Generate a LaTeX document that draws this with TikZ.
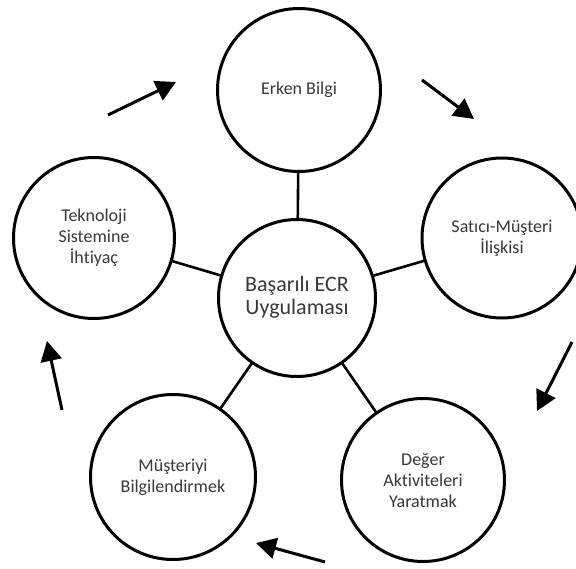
\documentclass[tikz,border=0pt]{standalone}
\usepackage{fontspec}
\setmainfont{Carlito}[Ligatures={NoCommon}]
\usetikzlibrary{arrows.meta}
\begin{document}
\begin{tikzpicture}[x=1pt,y=-1pt,
  bubble/.style={circle,draw=black,line width=3pt,fill=white,inner sep=0pt,
    minimum size=#1,align=center,text=black!78,font=\fontsize{18}{21}\selectfont},
  hub/.style={bubble=#1,font=\fontsize{22}{23}\selectfont},
  spoke/.style={line width=2.6pt,draw=black},
  flow/.style={line width=3pt,-{Triangle[length=20pt,width=21pt]}}]
\useasboundingbox (0,0) rectangle (576,568);
\fill[white] (0,0) rectangle (576,568);
% spokes first so the circles cover their ends
\coordinate (hc) at (297,298);
\coordinate (tc) at (299,90);
\coordinate (rc) at (502,238);
\coordinate (brc) at (423,480);
\coordinate (blc) at (173,477);
\coordinate (lc) at (94,238);
\draw[spoke] (hc) -- (tc);
\draw[spoke] (hc) -- (rc);
\draw[spoke] (hc) -- (brc);
\draw[spoke] (hc) -- (blc);
\draw[spoke] (hc) -- (lc);
% circles
\node[hub=157pt] (hub) at (hc) {\raisebox{-9pt}{\begin{tabular}{@{}c@{}}Başarılı ECR\\Uygulaması\end{tabular}}};
\node[bubble=163pt] (erken) at (tc) {Erken Bilgi};
\node[bubble=160pt] (satici) at (rc) {Satıcı-Müşteri\\İlişkisi};
\node[bubble=163pt] (deger) at (brc) {Değer\\Aktiviteleri\\Yaratmak};
\node[bubble=165pt] (musteri) at (blc) {Müşteriyi\\Bilgilendirmek};
\node[bubble=161pt] (teknoloji) at (lc) {Teknoloji\\Sistemine\\İhtiyaç};
% cycle arrows between the outer circles
\coordinate (a1s) at (108,115); \coordinate (a1e) at (176,82);
\coordinate (a2s) at (422,80);  \coordinate (a2e) at (474,119);
\coordinate (a3s) at (572,342); \coordinate (a3e) at (537,411);
\coordinate (a4s) at (325,562); \coordinate (a4e) at (256,543);
\coordinate (a5s) at (62,410);  \coordinate (a5e) at (47,341);
\draw[flow] (a1s) -- (a1e);
\draw[flow] (a2s) -- (a2e);
\draw[flow] (a3s) -- (a3e);
\draw[flow] (a4s) -- (a4e);
\draw[flow] (a5s) -- (a5e);
\end{tikzpicture}
\end{document}
